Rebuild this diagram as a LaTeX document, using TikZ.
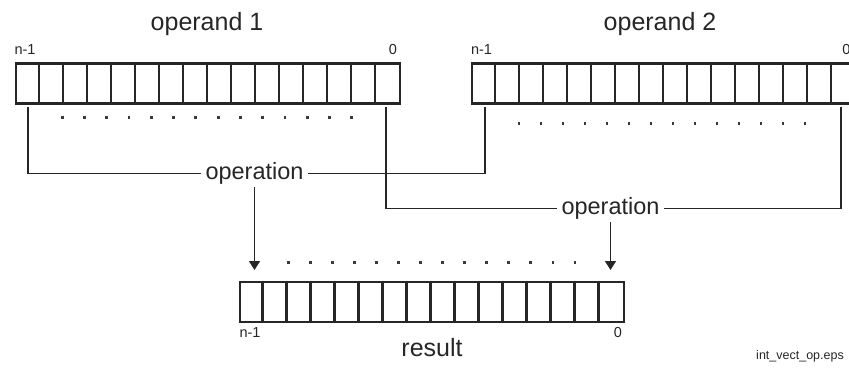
\documentclass[tikz,border=0pt]{standalone}
\usepackage{fontspec}
\setmainfont{Liberation Sans}
\usetikzlibrary{arrows.meta}
\definecolor{ink}{HTML}{262626}
\definecolor{dotink}{HTML}{3A3A3A}
\tikzset{
  reg/.style={draw=ink, line width=2.3pt, rectangle, minimum width=384pt,
    minimum height=40pt, inner sep=0pt, anchor=north west},
  cellline/.style={draw=ink, line width=2.3pt},
  wire/.style={draw=ink, line width=1.6pt},
  arrowwire/.style={wire, -{Triangle[length=9pt, width=11pt]}},
  title/.style={text=ink, font=\fontsize{25}{30}\selectfont, anchor=base, inner sep=0pt},
  opname/.style={text=ink, font=\fontsize{23.5}{28}\selectfont, inner xsep=4pt, inner ysep=3pt},
  bitidx/.style={text=ink, font=\fontsize{14.5}{17}\selectfont, inner sep=0pt},
  fname/.style={text=ink, font=\fontsize{12.5}{15}\selectfont, inner sep=0pt},
}
% cell separators of a 16-cell register node
\newcommand{\regcells}[1]{%
  \foreach \i in {1,...,15}
    \draw[cellline] ([xshift=\i*24pt]#1.north west) -- ([xshift=\i*24pt]#1.south west);}
% a row of 14 small square dots
\newcommand{\dotrow}[3]{%
  \foreach \k in {0,...,13}
    \fill[dotink] ({#1+\k*#2-1.4},{#3-1.4}) rectangle ++(2.8,2.8);}
\begin{document}
\begin{tikzpicture}[x=1pt, y=-1pt]
  \useasboundingbox (0,0) rectangle (849,369);
  \clip (0,0) rectangle (849,369);

  % registers
  \node[reg] (op1) at (15,62.3) {};
  \regcells{op1}
  \node[reg] (op2) at (470.7,62.3) {};
  \regcells{op2}
  \node[reg] (res) at (238.5,281) {};
  \regcells{res}

  % titles
  \node[title] (t1) at (207,30.7) {operand 1};
  \node[title] (t2) at (660,30.7) {operand 2};
  \node[title] (t3) at (432,356.5) {result};

  % bit indices
  \node[bitidx] (o1hi) at (25,50) {n-1};
  \node[bitidx] (o1lo) at (393,50) {0};
  \node[bitidx] (o2hi) at (481.5,50) {n-1};
  \node[bitidx] (o2lo) at (846.5,50) {0};
  \node[bitidx] (rhi) at (250,332.5) {n-1};
  \node[bitidx] (rlo) at (618,332.5) {0};

  % dotted rows
  \dotrow{62.3}{22.26}{117.3}
  \dotrow{519}{22.0}{123.3}
  \dotrow{288.3}{22.05}{262.7}

  % operations
  \node[opname] (opA) at (254.5,173.3) {operation};
  \node[opname] (opB) at (610.5,208.3) {operation};

  \coordinate (a1) at (28,107);
  \coordinate (a2) at (485,107);
  \coordinate (b1) at (386,107);
  \coordinate (b2) at (841,107);
  \coordinate (tipA) at (254.5,270);
  \coordinate (tipB) at (610.5,270);

  \draw[wire] (a1) |- (opA.west);
  \draw[wire] (opA.east) -| (a2);
  \draw[wire] (b1) |- (opB.west);
  \draw[wire] (opB.east) -| (b2);

  \draw[arrowwire] (opA.south) -- (tipA);
  \draw[arrowwire] (opB.south) -- (tipB);

  % file name
  \node[fname] (fn) at (800,356) {int\_vect\_op.eps};
\end{tikzpicture}
\end{document}
